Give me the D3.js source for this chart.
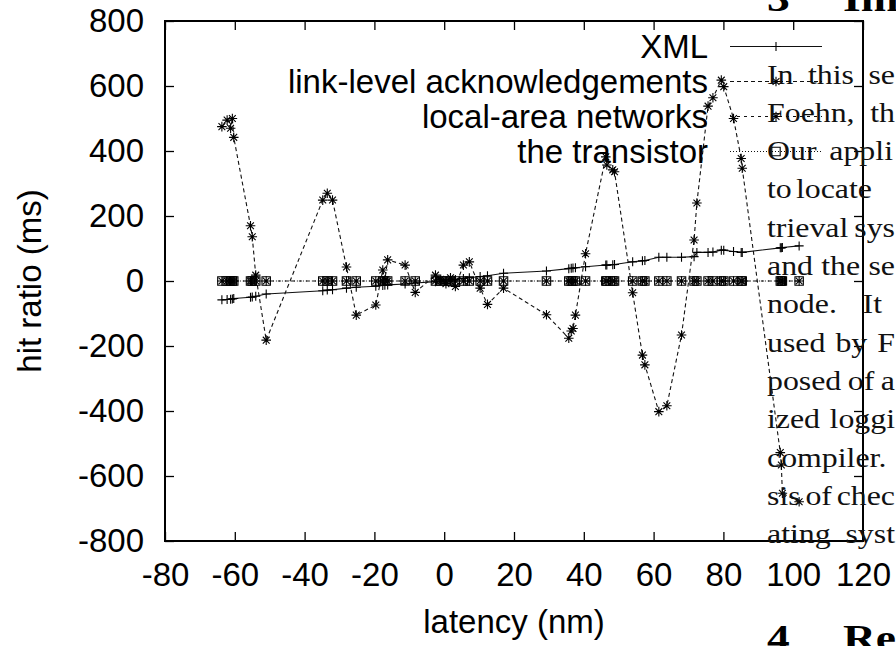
<!DOCTYPE html>
<html>
<head>
<meta charset="utf-8">
<script src="https://cdn.jsdelivr.net/npm/d3@7/dist/d3.min.js"></script>
<style>
body { margin: 0; background: #fff; }
svg { display: block; }
</style>
</head>
<body>
<div id="chart"></div>
<script>
'use strict';

// shared latency values (nm)
var xValues = [-63.7, -62.2, -61.2, -60.7, -60.3, -55.5, -55.0, -54.0, -51.0, -34.8,
	-33.5, -32.0, -28.0, -25.2, -19.6, -17.6, -17.0, -16.2, -11.2, -8.3,
	-2.5, -1.0, 0.5, 1.8, 3.2, 5.5, 7.2, 10.3, 12.4, 17.0,
	29.3, 35.7, 36.4, 36.9, 37.6, 40.5, 46.3, 46.6, 48.3, 48.8,
	54.0, 56.8, 57.5, 61.5, 63.8, 68.0, 71.6, 72.4, 75.6, 77.0,
	79.4, 80.1, 82.9, 85.1, 85.4, 96.3, 96.6, 96.9, 101.7];

var yXML = [-58, -57, -56, -55, -54, -50, -49, -47, -40, -30,
	-28, -27, -22, -19, -16, -14, -13, -12, -9, -6,
	-2, 0, 1, 3, 5, 8, 10, 14, 16, 24,
	31, 38, 39, 40, 41, 44, 49, 49, 50, 51,
	59, 62, 63, 73, 73, 73, 75, 88, 88, 89,
	95, 95, 91, 88, 88, 102, 102, 103, 108];

var yLinkLevel = [475, 495, 470, 500, 442, 170, 136, 18, -182, 249,
	270, 249, 43, -105, -74, 34, 3, 65, 49, -35,
	18, 5, -8, 10, -17, 49, 59, -22, -72, -22,
	-104, -176, -154, -146, -105, 84, 382, 357, 342, 336,
	-36, -228, -258, -402, -384, -166, 126, 240, 538, 564,
	618, 598, 500, 377, 347, -528, -566, -653, -679];

var yLocalArea = [0, 0, 0, 0, 0, 0, 0, 0, 0, 0,
	0, 0, 0, 0, 0, 0, 0, 0, 0, 0,
	0, 0, 0, 0, 0, 0, 0, 0, 0, 0,
	0, 0, 0, 0, 0, 0, 0, 0, 0, 0,
	0, 0, 0, 0, 0, 0, 0, 0, 0, 0,
	0, 0, 0, 0, 0, 0, 0, 0, 0];

var yTransistor = [0, 0, 0, 0, 0, 0, 0, 0, 0, 0,
	0, 0, 0, 0, 0, 0, 0, 0, 0, 0,
	0, 0, 0, 0, 0, 0, 0, 0, 0, 0,
	0, 0, 0, 0, 0, 0, 0, 0, 0, 0,
	0, 0, 0, 0, 0, 0, 0, 0, 0, 0,
	0, 0, 0, 0, 0, 0, 0, 0, 0];

var seriesNames = ["XML", "link-level acknowledgements", "local-area networks", "the transistor"];
var xTicks = [-80, -60, -40, -20, 0, 20, 40, 60, 80, 100, 120];
var yTicks = [-800, -600, -400, -200, 0, 200, 400, 600, 800];

// paper text that runs over the figure (only the part inside the page shows)
var paperLines = ["In this se", "Foehn, th", "Our appli", "to locate",
	"trieval sys", "and the se", "node.  It", "used by F", "posed of a",
	"ized loggi", "compiler.", "sis of chec", "ating syst"];
var paperLineEnds = [895, 895, 893, 872, 895, 895, 882, 895, 895, 895, 890, 895, 895];
var headings = [["3", "Im"], ["4", "Re"]];

var W = 896, H = 646;
var margin = { top: 21, right: 33, bottom: 105, left: 165 };
var width = W - margin.left - margin.right,
	height = H - margin.top - margin.bottom;

var svg = d3.select("#chart").append("svg").attr("width", W).attr("height", H);
var g = svg.append("g").attr("transform", "translate(" + margin.left + "," + margin.top + ")");

var x = d3.scaleLinear().domain([-80, 120]).range([0, width]);
var y = d3.scaleLinear().domain([-800, 800]).range([height, 0]);

var sansFont = "'Liberation Sans', Arial, Helvetica, sans-serif";
var plainNum = function(d) { return String(d); };

// axes, gnuplot style: ticks inside, mirrored
function styleAxis(sel) {
	sel.select(".domain").remove();
	sel.selectAll("line").attr("stroke", "#000").attr("stroke-width", 1.3);
	sel.selectAll("text").attr("font-family", sansFont).attr("font-size", 33).attr("fill", "#000");
}

g.append("g").attr("transform", "translate(0," + height + ")")
	.call(d3.axisBottom(x).tickValues(xTicks).tickSize(-9).tickPadding(22).tickFormat(plainNum))
	.call(styleAxis);
g.append("g")
	.call(d3.axisTop(x).tickValues(xTicks).tickSize(-9).tickFormat(""))
	.call(styleAxis);
g.append("g")
	.call(d3.axisLeft(y).tickValues(yTicks).tickSize(-9).tickPadding(21).tickFormat(plainNum))
	.call(styleAxis);
g.append("g").attr("transform", "translate(" + width + ",0)")
	.call(d3.axisRight(y).tickValues(yTicks).tickSize(-9).tickFormat(""))
	.call(styleAxis);

g.append("rect").attr("width", width).attr("height", height)
	.attr("fill", "none").attr("stroke", "#000").attr("stroke-width", 2);

// axis titles
g.append("text").attr("x", width / 2).attr("y", 612)
	.attr("text-anchor", "middle").attr("font-family", sansFont).attr("font-size", 33)
	.text("latency (nm)");
svg.append("text").attr("transform", "translate(41," + (margin.top + y(0)) + ") rotate(-90)")
	.attr("text-anchor", "middle").attr("font-family", sansFont).attr("font-size", 33)
	.text("hit ratio (ms)");

// marker shapes
function plusPath(cx, cy) {
	var s = 4.5;
	return "M" + (cx - s) + "," + cy + "h" + 2 * s + "M" + cx + "," + (cy - s) + "v" + 2 * s;
}
function starPath(cx, cy) {
	var s = 4.8, d = 3.4;
	return "M" + (cx - s) + "," + cy + "h" + 2 * s + "M" + cx + "," + (cy - s) + "v" + 2 * s +
		"M" + (cx - d) + "," + (cy - d) + "l" + 2 * d + "," + 2 * d +
		"M" + (cx - d) + "," + (cy + d) + "l" + 2 * d + "," + (-2 * d);
}
function boxPath(cx, cy) {
	var s = 4.2;
	return "M" + (cx - s) + "," + (cy - s) + "h" + 2 * s + "v" + 2 * s + "h" + (-2 * s) + "z";
}

var series = [
	{ name: seriesNames[0], values: yXML, dash: null, marker: plusPath },
	{ name: seriesNames[1], values: yLinkLevel, dash: "4,3", marker: starPath },
	{ name: seriesNames[2], values: yLocalArea, dash: "3,4", marker: starPath },
	{ name: seriesNames[3], values: yTransistor, dash: "1,2", marker: boxPath }
];

var line = d3.line().x(function(d) { return x(d[0]); }).y(function(d) { return y(d[1]); });

series.forEach(function(s, i) {
	var pts = xValues.map(function(xv, j) { return [xv, s.values[j]]; });
	var sg = g.append("g");
	sg.append("path").attr("d", line(pts)).attr("fill", "none")
		.attr("stroke", "#111").attr("stroke-width", 1.1)
		.attr("stroke-dasharray", s.dash);
	sg.selectAll("path.pt").data(pts).enter().append("path").attr("class", "pt")
		.attr("d", function(d) { return s.marker(x(d[0]), y(d[1])); })
		.attr("fill", "none").attr("stroke", "#000").attr("stroke-width", 1.1);

	// legend entry
	var ly = 46.5 + i * 35;
	svg.append("text").attr("x", 708).attr("y", ly + 11.5)
		.attr("text-anchor", "end").attr("font-family", sansFont).attr("font-size", 33)
		.text(s.name);
	svg.append("path").attr("d", "M730," + ly + "H822").attr("fill", "none")
		.attr("stroke", "#111").attr("stroke-width", 1.1).attr("stroke-dasharray", s.dash);
	svg.append("path").attr("d", s.marker(776, ly)).attr("fill", "none")
		.attr("stroke", "#000").attr("stroke-width", 1.1);
});

// paper text over the right side, justified like the page it came from
var serif = "'Liberation Serif', 'Times New Roman', serif";
var textScale = 1.18, textLeft = 767;
paperLines.forEach(function(t, i) {
	var tx = svg.append("text")
		.attr("transform", "translate(" + textLeft + "," + (83.5 + i * 38.3) + ") scale(" + textScale + ",1)")
		.attr("font-family", serif).attr("font-size", 27).attr("fill", "#111")
		.attr("xml:space", "preserve").style("white-space", "pre")
		.text(t);
	var spaces = t.split(" ").length - 1;
	if (spaces > 0) {
		var natural = tx.node().getComputedTextLength();
		var extra = ((paperLineEnds[i] - textLeft) / textScale - natural) / spaces;
		tx.attr("word-spacing", Math.max(-4, extra));
	}
});
[11, 650].forEach(function(by, i) {
	svg.append("text").attr("transform", "translate(767," + by + ") scale(1.3,1)")
		.attr("font-family", serif).attr("font-size", 35).attr("font-weight", "bold")
		.text(headings[i][0]);
	svg.append("text").attr("transform", "translate(843," + by + ") scale(1.3,1)")
		.attr("font-family", serif).attr("font-size", 35).attr("font-weight", "bold")
		.text(headings[i][1]);
});
</script>
</body>
</html>
